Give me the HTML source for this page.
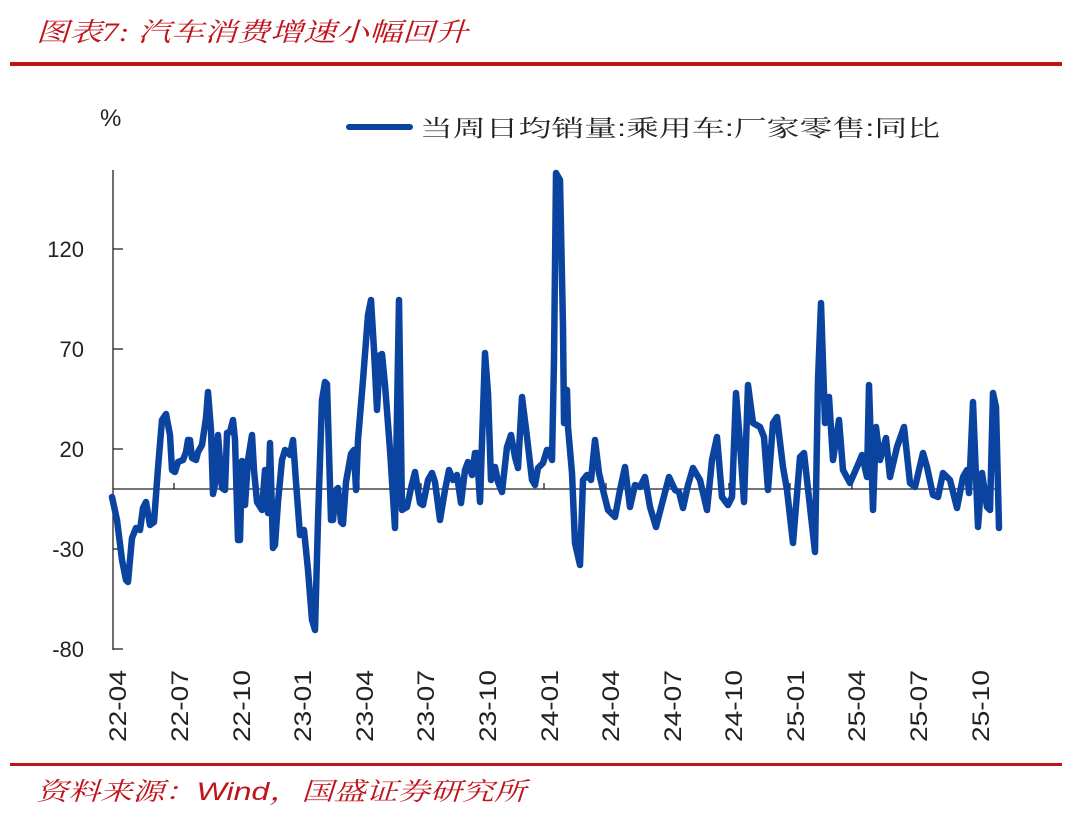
<!DOCTYPE html>
<html><head><meta charset="utf-8"><style>
body{margin:0;background:#fff;width:1080px;height:826px;overflow:hidden;font-family:"Liberation Sans","Noto Sans CJK SC",sans-serif}
</style></head><body>
<svg width="1080" height="826" xmlns="http://www.w3.org/2000/svg">
<text x="36" y="41" fill="#c0141c" font-size="26" font-style="italic" font-family="Liberation Serif, Noto Serif CJK SC, serif" textLength="432" lengthAdjust="spacingAndGlyphs">图表7:  汽车消费增速小幅回升</text>
<rect x="10" y="62" width="1052" height="4" fill="#c0141c"/>
<text x="100" y="126" font-size="24" fill="#222">%</text>
<line x1="349" y1="127" x2="410" y2="127" stroke="#0a44a0" stroke-width="6" stroke-linecap="round"/>
<text x="420" y="136" font-size="23" fill="#222" font-family="Liberation Sans, Noto Serif CJK SC, sans-serif" textLength="520" lengthAdjust="spacingAndGlyphs">当周日均销量:乘用车:厂家零售:同比</text>
<g stroke="#222" stroke-width="1.3">
<line x1="113" y1="170" x2="113" y2="650"/>
<line x1="113" y1="489" x2="1000" y2="489"/>
<line x1="113" y1="249" x2="123" y2="249"/><line x1="113" y1="349" x2="123" y2="349"/><line x1="113" y1="449" x2="123" y2="449"/><line x1="113" y1="549" x2="123" y2="549"/><line x1="113" y1="649" x2="123" y2="649"/>
<line x1="174" y1="489" x2="174" y2="483"/><line x1="236" y1="489" x2="236" y2="483"/><line x1="298" y1="489" x2="298" y2="483"/><line x1="359" y1="489" x2="359" y2="483"/><line x1="421" y1="489" x2="421" y2="483"/><line x1="483" y1="489" x2="483" y2="483"/><line x1="544" y1="489" x2="544" y2="483"/><line x1="606" y1="489" x2="606" y2="483"/><line x1="667" y1="489" x2="667" y2="483"/><line x1="729" y1="489" x2="729" y2="483"/><line x1="790" y1="489" x2="790" y2="483"/><line x1="852" y1="489" x2="852" y2="483"/><line x1="914" y1="489" x2="914" y2="483"/><line x1="975" y1="489" x2="975" y2="483"/>
</g>
<g font-size="22" fill="#222" text-anchor="end">
<text x="84" y="257">120</text><text x="84" y="357">70</text><text x="84" y="457">20</text><text x="84" y="557">-30</text><text x="84" y="657">-80</text>
</g>
<g font-size="24" fill="#222" text-anchor="end">
<text transform="translate(126,670) rotate(-90)" textLength="72" lengthAdjust="spacingAndGlyphs">22-04</text>
<text transform="translate(188,670) rotate(-90)" textLength="72" lengthAdjust="spacingAndGlyphs">22-07</text>
<text transform="translate(250,670) rotate(-90)" textLength="72" lengthAdjust="spacingAndGlyphs">22-10</text>
<text transform="translate(311,670) rotate(-90)" textLength="72" lengthAdjust="spacingAndGlyphs">23-01</text>
<text transform="translate(373,670) rotate(-90)" textLength="72" lengthAdjust="spacingAndGlyphs">23-04</text>
<text transform="translate(434,670) rotate(-90)" textLength="72" lengthAdjust="spacingAndGlyphs">23-07</text>
<text transform="translate(496,670) rotate(-90)" textLength="72" lengthAdjust="spacingAndGlyphs">23-10</text>
<text transform="translate(558,670) rotate(-90)" textLength="72" lengthAdjust="spacingAndGlyphs">24-01</text>
<text transform="translate(619,670) rotate(-90)" textLength="72" lengthAdjust="spacingAndGlyphs">24-04</text>
<text transform="translate(681,670) rotate(-90)" textLength="72" lengthAdjust="spacingAndGlyphs">24-07</text>
<text transform="translate(742,670) rotate(-90)" textLength="72" lengthAdjust="spacingAndGlyphs">24-10</text>
<text transform="translate(804,670) rotate(-90)" textLength="72" lengthAdjust="spacingAndGlyphs">25-01</text>
<text transform="translate(865,670) rotate(-90)" textLength="72" lengthAdjust="spacingAndGlyphs">25-04</text>
<text transform="translate(927,670) rotate(-90)" textLength="72" lengthAdjust="spacingAndGlyphs">25-07</text>
<text transform="translate(989,670) rotate(-90)" textLength="72" lengthAdjust="spacingAndGlyphs">25-10</text>
</g>
<polyline fill="none" stroke="#0a44a0" stroke-width="6.5" stroke-linejoin="round" stroke-linecap="round" points="112,497 117,520 122,560 126,580 128,582 132,538 136,528 140,530 143,508 146,502 150,525 154,522 158,468 162,420 166,414 170,435 172,470 175,472 178,462 183,460 186,452 188,440 190,440 192,458 196,460 198,452 202,445 206,418 208,392 211,430 213,494 215,484 218,435 222,488 225,490 227,433 230,432 233,420 235,440 238,540 240,540 242,461 244,462 245,505 248,460 252,435 254,470 257,502 262,510 265,470 268,513 270,443 273,548 275,545 278,502 282,460 285,450 288,452 290,455 293,440 296,482 300,535 304,530 308,570 312,620 315,630 318,520 322,400 325,382 327,384 331,520 333,520 336,490 338,488 341,522 343,524 346,482 351,454 354,450 356,490 358,440 363,380 368,315 371,300 374,350 377,410 380,355 382,354 385,385 390,450 395,528 399,300 402,510 407,507 411,488 415,472 420,503 423,505 428,480 432,473 435,482 440,520 445,490 449,470 453,480 457,475 461,503 465,470 468,462 472,475 475,453 477,453 480,502 485,353 488,393 491,480 495,467 498,482 502,492 507,447 511,435 515,457 518,468 522,397 527,437 532,480 535,485 538,468 543,463 547,450 549,450 552,460 554,360 556,173 560,180 563,327 564,423 567,390 568,427 572,473 575,543 580,565 583,480 587,475 591,480 595,440 599,473 603,490 608,510 615,517 620,490 625,467 630,507 635,485 640,487 645,477 650,507 656,527 663,500 669,477 675,490 679,492 683,508 688,485 693,468 700,480 707,510 712,460 717,437 722,497 728,505 732,497 736,393 739,430 744,502 748,385 753,423 760,427 764,437 768,490 773,423 777,417 783,467 787,490 793,543 800,457 804,453 810,507 815,552 818,380 821,303 825,423 829,397 833,460 839,420 843,470 850,483 857,467 862,455 867,477 869,385 873,510 876,427 880,460 886,438 890,477 897,447 904,427 910,483 915,487 923,453 927,467 933,495 938,497 943,473 950,480 957,508 963,477 967,470 969,493 973,402 978,527 982,473 987,507 990,510 993,393 996,407 999,528"/>
<rect x="10" y="763" width="1052" height="3" fill="#c0141c"/>
<text x="36" y="800" fill="#c0141c" font-size="25" font-style="italic" font-family="Liberation Sans, Noto Serif CJK SC, sans-serif" textLength="490" lengthAdjust="spacingAndGlyphs">资料来源：Wind，国盛证券研究所</text>
</svg>
</body></html>
